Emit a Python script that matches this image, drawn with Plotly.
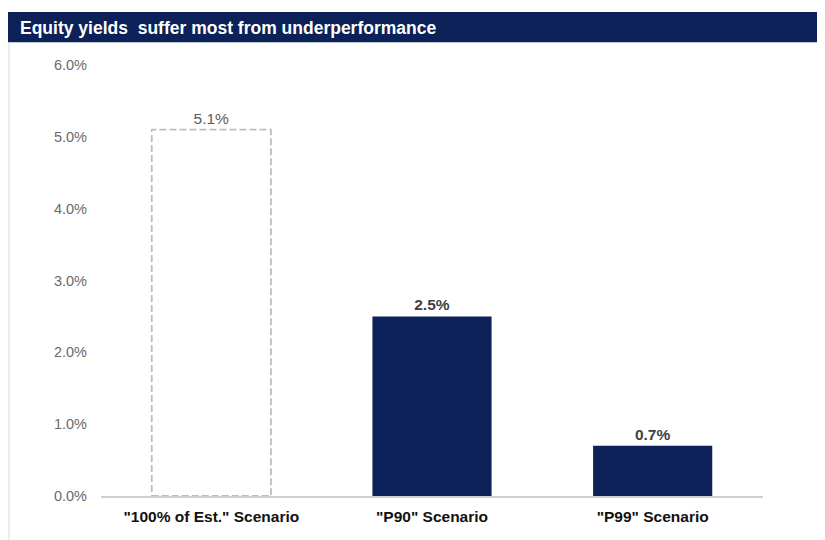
import plotly.graph_objects as go

categories = ['"100% of Est." Scenario', '"P90" Scenario', '"P99" Scenario']
yields = [5.1, 2.5, 0.7]
value_labels = ["5.1%", "<b>2.5%</b>", "<b>0.7%</b>"]
tick_vals = [0, 1, 2, 3, 4, 5, 6]
tick_text = ["0.0%", "1.0%", "2.0%", "3.0%", "4.0%", "5.0%", "6.0%"]

navy = "#0b2158"
bar_width = 0.54

fig = go.Figure()

# the base case is drawn as an empty bar, outlined with a dashed shape below
fig.add_trace(go.Bar(
    x=categories,
    y=yields,
    width=bar_width,
    marker=dict(color=["rgba(0,0,0,0)", navy, navy], line=dict(width=0)),
    text=value_labels,
    textposition="outside",
    textfont=dict(family="Arial, Liberation Sans", size=15.5,
                  color=["#5a5a5a", "#404040", "#404040"]),
    cliponaxis=False,
    hoverinfo="skip",
))

# dashed outline for the "100% of Est." bar
fig.add_shape(
    type="rect", xref="x", yref="y",
    x0=0 - bar_width / 2, x1=0 + bar_width / 2, y0=0, y1=yields[0],
    line=dict(color="#bdbdbd", width=1.8, dash="7px,3px"),
    fillcolor="rgba(0,0,0,0)",
    layer="above",
)

# title banner
fig.add_shape(type="rect", xref="paper", yref="paper",
              x0=-0.1405, x1=1.094, y0=1.053, y1=1.123,
              fillcolor=navy, line=dict(width=0), layer="below")
fig.add_annotation(text="<b>Equity yields  suffer most from underperformance</b>",
                   xref="paper", yref="paper", x=-0.126, y=1.087,
                   xanchor="left", yanchor="middle", showarrow=False,
                   font=dict(family="Arial, Liberation Sans", size=17.5, color="white"))

# thin frame line on the left edge
fig.add_shape(type="line", xref="paper", yref="paper",
              x0=-0.139, x1=-0.139, y0=-0.11, y1=1.053,
              line=dict(color="#dcdcdc", width=1))

fig.update_layout(
    width=825, height=540,
    margin=dict(l=93, r=70, t=57, b=52),
    paper_bgcolor="white",
    plot_bgcolor="white",
    showlegend=False,
    bargap=0.46,
    font=dict(family="Arial, Liberation Sans"),
)
fig.update_xaxes(
    showgrid=False, showline=True, linecolor="#cfcfcf", linewidth=1.5,
    ticks="", tickfont=dict(size=15.5, color="#111111"),
    tickprefix="<b>", ticksuffix="</b>", ticklabelstandoff=6,
)
fig.update_yaxes(
    range=[0, 6], tickvals=tick_vals, ticktext=tick_text,
    showgrid=False, zeroline=False, showline=False, ticks="",
    tickfont=dict(size=14.5, color="#6a6a6a"), ticklabelstandoff=13,
)

fig.write_html("out.html")
